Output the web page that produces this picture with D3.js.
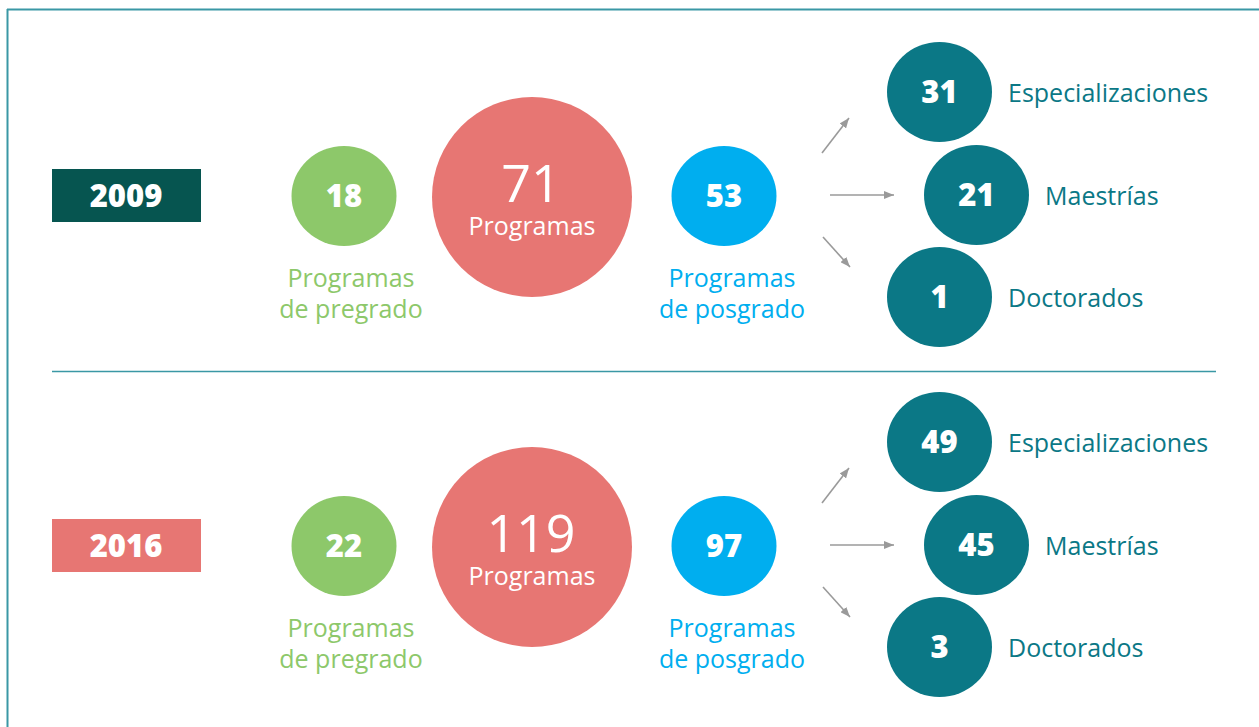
<!DOCTYPE html>
<html>
<head>
<meta charset="utf-8">
<script src="https://cdn.jsdelivr.net/npm/d3@7"></script>
<style>
  body { margin: 0; background: #fff; }
  svg text { font-family: "Open Sans", "Noto Sans", sans-serif; }
</style>
</head>
<body>
<svg id="chart" width="1259" height="727"></svg>
<script>
// Data
const years = ["2009", "2016"];
const totals = [71, 119];
const pregrado = [18, 22];
const posgrado = [53, 97];
const especializaciones = [31, 49];
const maestrias = [21, 45];
const doctorados = [1, 3];
const postLabels = ["Especializaciones", "Maestrías", "Doctorados"];

// Colors
const yearColors = ["#065550", "#e77673"];
const green = "#8dc86a";
const red = "#e77673";
const blue = "#00aeef";
const teal = "#0b7886";
const arrowGray = "#9a9a9a";
const frameColor = "#3a98a5";

const width = 1259, height = 727;
const svg = d3.select("#chart");

// Row scale -> each year gets a band, circles sit in the middle
const y = d3.scaleBand().domain(years).range([21, 721]);
const cy = d => y(d) + y.bandwidth() / 2;

// Frame
svg.append("line")
  .attr("x1", 7.5).attr("x2", 7.5).attr("y1", 9).attr("y2", height)
  .attr("stroke", frameColor).attr("stroke-width", 2);
svg.append("line")
  .attr("x1", 7).attr("x2", width).attr("y1", 9.5).attr("y2", 9.5)
  .attr("stroke", frameColor).attr("stroke-width", 2);

// Separator between years
svg.append("line")
  .attr("x1", 52).attr("x2", 1216)
  .attr("y1", y(years[1]) + 0.5).attr("y2", y(years[1]) + 0.5)
  .attr("stroke", frameColor).attr("stroke-width", 1.5);

// Arrow marker
svg.append("defs").append("marker")
  .attr("id", "arrow")
  .attr("viewBox", "0 0 10 8")
  .attr("refX", 10).attr("refY", 4)
  .attr("markerWidth", 10).attr("markerHeight", 8)
  .attr("markerUnits", "userSpaceOnUse")
  .attr("orient", "auto")
  .append("path")
  .attr("d", "M0,0 L10,4 L0,8 Z")
  .attr("fill", arrowGray);

const rows = svg.selectAll("g.row")
  .data(years.map((yr, i) => ({
    year: yr, i,
    total: totals[i], pre: pregrado[i], pos: posgrado[i],
    sub: [especializaciones[i], maestrias[i], doctorados[i]]
  })))
  .join("g")
  .attr("class", "row")
  .attr("transform", d => `translate(0,${cy(d.year)})`);

// Year box
rows.append("rect")
  .attr("x", 52).attr("y", -27).attr("width", 149).attr("height", 53)
  .attr("fill", d => yearColors[d.i]);
rows.append("text")
  .attr("x", 126).attr("y", 11)
  .attr("text-anchor", "middle")
  .attr("fill", "#fff")
  .style("font-size", "31px").style("font-weight", 800)
  .text(d => d.year);

// Small number circle helper
function bubble(sel, cx, dy, color, val) {
  sel.append("ellipse")
    .attr("cx", cx).attr("cy", dy).attr("rx", 52.5).attr("ry", 50)
    .attr("fill", color);
  sel.append("text")
    .attr("x", cx).attr("y", dy + 11)
    .attr("text-anchor", "middle")
    .attr("fill", "#fff")
    .style("font-size", "31px").style("font-weight", 800)
    .text(val);
}

// Two-line caption helper
function caption(sel, cx, color, l1, l2) {
  const t = sel.append("text")
    .attr("text-anchor", "middle")
    .attr("fill", color)
    .style("font-size", "25px");
  t.append("tspan").attr("x", cx).attr("y", 91).text(l1);
  t.append("tspan").attr("x", cx).attr("y", 122).text(l2);
}

rows.each(function(d) {
  const g = d3.select(this);

  // Pregrado
  bubble(g, 344, 0, green, d.pre);
  caption(g, 351, green, "Programas", "de pregrado");

  // Total: number + word in one text block
  g.append("circle").attr("cx", 532).attr("cy", 1).attr("r", 100).attr("fill", red);
  const tot = g.append("text")
    .attr("text-anchor", "middle").attr("fill", "#fff");
  tot.append("tspan")
    .attr("x", 531).attr("y", 6)
    .style("font-size", "52px")
    .text(d.total);
  tot.append("tspan")
    .attr("x", 532).attr("y", 39)
    .style("font-size", "25px")
    .text("Programas");

  // Posgrado
  bubble(g, 724, 0, blue, d.pos);
  caption(g, 732, blue, "Programas", "de posgrado");

  // Arrows
  const arrows = [
    [822, -43, 849, -78],
    [830, -1, 894, -1],
    [823, 41, 850, 71]
  ];
  g.selectAll("line.arrow")
    .data(arrows)
    .join("line")
    .attr("class", "arrow")
    .attr("x1", a => a[0]).attr("y1", a => a[1])
    .attr("x2", a => a[2]).attr("y2", a => a[3])
    .attr("stroke", arrowGray).attr("stroke-width", 1.6)
    .attr("marker-end", "url(#arrow)");

  // Posgrado breakdown
  const subPos = [[939.5, -104], [976.5, -1], [939.5, 101]];
  d.sub.forEach((v, k) => {
    bubble(g, subPos[k][0], subPos[k][1], teal, v);
    g.append("text")
      .attr("x", subPos[k][0] + 68.5).attr("y", subPos[k][1] + 10)
      .attr("fill", teal)
      .style("font-size", "25px")
      .text(postLabels[k]);
  });
});
</script>
</body>
</html>
